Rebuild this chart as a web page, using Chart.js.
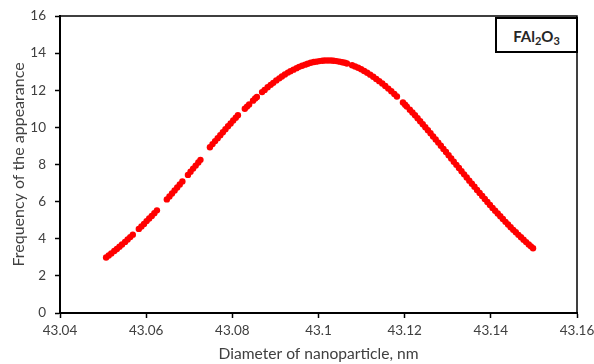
<!DOCTYPE html>
<html>
<head>
<meta charset="utf-8">
<script src="https://cdn.jsdelivr.net/npm/chart.js@4/dist/chart.umd.min.js"></script>
<style>
  html, body { margin: 0; padding: 0; background: #fff; }
  #wrap { position: relative; width: 594px; height: 364px; }
  #legendBox {
    position: absolute; left: 495px; top: 17px; width: 83px; height: 36px; box-sizing: border-box;
    border: 2px solid #000; background: #fff;
    font: bold 15px Lato, "Liberation Sans", sans-serif; color: #262626;
    display: flex; align-items: center; justify-content: center; padding-top: 1px;
  }
  #legendBox sub { font-size: 11px; position: relative; top: 3px; vertical-align: baseline; line-height: 0; }
</style>
</head>
<body>
<div id="wrap">
  <canvas id="c" width="594" height="364"></canvas>
  <div id="legendBox"><span>FAl<sub>2</sub>O<sub>3</sub></span></div>
</div>
<script>
// Diameter of nanoparticle (nm) and frequency of the appearance
const diameters = [
  43.0507, 43.0513, 43.0519, 43.0526, 43.0532, 43.0538, 43.0544, 43.0551, 43.0557, 43.0563, 43.0569,
  43.0583, 43.0589, 43.0595, 43.0601, 43.0607, 43.0613, 43.0619, 43.0625,
  43.0648, 43.0654, 43.0660, 43.0666, 43.0672, 43.0678, 43.0684,
  43.0697, 43.0703, 43.0709, 43.0715, 43.0721, 43.0726,
  43.0748, 43.0754, 43.0760, 43.0766, 43.0772, 43.0778, 43.0784, 43.0790, 43.0796, 43.0802, 43.0808, 43.0813,
  43.0829, 43.0834, 43.0839,
  43.0848, 43.0853, 43.0857,
  43.0869, 43.0875, 43.0882, 43.0889, 43.0895, 43.0902, 43.0909, 43.0915, 43.0922, 43.0929, 43.0935, 43.0942,
  43.0949, 43.0955, 43.0962, 43.0969, 43.0975, 43.0982, 43.0989, 43.0995, 43.1002, 43.1009, 43.1015, 43.1022,
  43.1029, 43.1035, 43.1042, 43.1049, 43.1055, 43.1061, 43.1066,
  43.1078, 43.1085, 43.1092, 43.1099, 43.1106, 43.1113, 43.1120, 43.1127, 43.1134, 43.1141, 43.1148, 43.1155,
  43.1162, 43.1169, 43.1176, 43.1182,
  43.1196, 43.1201, 43.1205,
  43.1212, 43.1218, 43.1224, 43.1230, 43.1236, 43.1242, 43.1248, 43.1254, 43.1260, 43.1266, 43.1272, 43.1278,
  43.1284, 43.1290, 43.1296, 43.1302, 43.1308, 43.1314, 43.1320, 43.1326, 43.1332, 43.1338, 43.1344, 43.1350,
  43.1356, 43.1362, 43.1368, 43.1374, 43.1380, 43.1386, 43.1392, 43.1398, 43.1404, 43.1410, 43.1416, 43.1422,
  43.1428, 43.1434, 43.1440, 43.1446, 43.1452, 43.1458, 43.1464, 43.1470, 43.1476, 43.1482, 43.1488, 43.1493, 43.1498
];
const frequencies = [
  2.99, 3.10, 3.21, 3.34, 3.45, 3.57, 3.69, 3.83, 3.96, 4.09, 4.22,
  4.53, 4.66, 4.80, 4.95, 5.09, 5.23, 5.38, 5.53,
  6.12, 6.28, 6.44, 6.60, 6.76, 6.92, 7.09,
  7.44, 7.61, 7.78, 7.94, 8.11, 8.25,
  8.93, 9.10, 9.26, 9.42, 9.58, 9.74, 9.90, 10.06, 10.21, 10.37, 10.52, 10.65,
  11.00, 11.12, 11.23,
  11.44, 11.56, 11.64,
  11.90, 12.02, 12.16, 12.29, 12.40, 12.53, 12.64, 12.74, 12.85, 12.95, 13.03, 13.11,
  13.19, 13.26, 13.32, 13.38, 13.43, 13.48, 13.52, 13.54, 13.57, 13.59, 13.60, 13.60,
  13.60, 13.59, 13.57, 13.54, 13.51, 13.48, 13.44,
  13.35, 13.28, 13.21, 13.13, 13.04, 12.94, 12.84, 12.73, 12.61, 12.49, 12.36, 12.23,
  12.09, 11.95, 11.80, 11.66,
  11.34, 11.22, 11.12,
  10.95, 10.80, 10.65, 10.49, 10.33, 10.17, 10.01, 9.85, 9.68, 9.51, 9.35, 9.18,
  9.01, 8.84, 8.67, 8.50, 8.32, 8.15, 7.98, 7.81, 7.64, 7.47, 7.30, 7.13,
  6.96, 6.80, 6.63, 6.47, 6.30, 6.14, 5.98, 5.82, 5.66, 5.51, 5.36, 5.21,
  5.06, 4.91, 4.77, 4.62, 4.48, 4.35, 4.21, 4.08, 3.95, 3.82, 3.69, 3.59, 3.49
];
const xTicks = [43.04, 43.06, 43.08, 43.1, 43.12, 43.14, 43.16];
const yTicks = [0, 2, 4, 6, 8, 10, 12, 14, 16];

const FONT = 'Lato, "Liberation Sans", sans-serif';
const frame = {
  id: 'frame',
  afterDatasetsDraw(chart) {
    const a = chart.chartArea, ctx = chart.ctx;
    ctx.save();
    ctx.strokeStyle = '#000';
    ctx.lineWidth = 1.5;
    ctx.strokeRect(a.left, a.top, a.right - a.left, a.bottom - a.top);
    ctx.restore();
  }
};

new Chart(document.getElementById('c'), {
  type: 'scatter',
  data: {
    datasets: [{
      data: diameters.map((x, i) => ({ x: x, y: frequencies[i] })),
      backgroundColor: '#ff0000',
      borderColor: '#ff0000',
      pointRadius: 3.2,
      pointBorderWidth: 0
    }]
  },
  options: {
    responsive: false,
    animation: false,
    events: [],
    layout: { padding: { left: 4, right: 17, top: 16, bottom: 0 } },
    plugins: { legend: { display: false }, tooltip: { enabled: false } },
    scales: {
      x: {
        type: 'linear',
        min: xTicks[0], max: xTicks[xTicks.length - 1],
        afterBuildTicks(s) { s.ticks = xTicks.map(v => ({ value: v })); },
        afterFit(s) { s.height = 51; s.paddingLeft = 0; s.paddingRight = 0; },
        ticks: {
          padding: 5, color: '#404040', font: { family: FONT, size: 13.5 },
          callback: v => String(Number(v.toFixed(2)))
        },
        grid: { drawOnChartArea: false, drawTicks: true, tickLength: 5, tickColor: '#000', tickWidth: 1.5 },
        border: { display: true, color: '#000', width: 2 },
        title: { display: true, text: 'Diameter of nanoparticle, nm', color: '#404040',
                 font: { family: FONT, size: 15.6 }, padding: { top: 2, bottom: 1 } }
      },
      y: {
        type: 'linear',
        min: 0, max: 16,
        afterBuildTicks(s) { s.ticks = yTicks.map(v => ({ value: v })); },
        afterFit(s) { s.width = 56; s.paddingTop = 0; s.paddingBottom = 0; },
        ticks: { padding: 9, color: '#404040', font: { family: FONT, size: 13.5 } },
        grid: { drawOnChartArea: false, drawTicks: true, tickLength: 5, tickColor: '#000', tickWidth: 1.5 },
        border: { display: true, color: '#000', width: 2 },
        title: { display: true, text: 'Frequency of the appearance', color: '#404040',
                 font: { family: FONT, size: 16 }, padding: { top: 5, bottom: 0 } }
      }
    }
  },
  plugins: [frame]
});
</script>
</body>
</html>
